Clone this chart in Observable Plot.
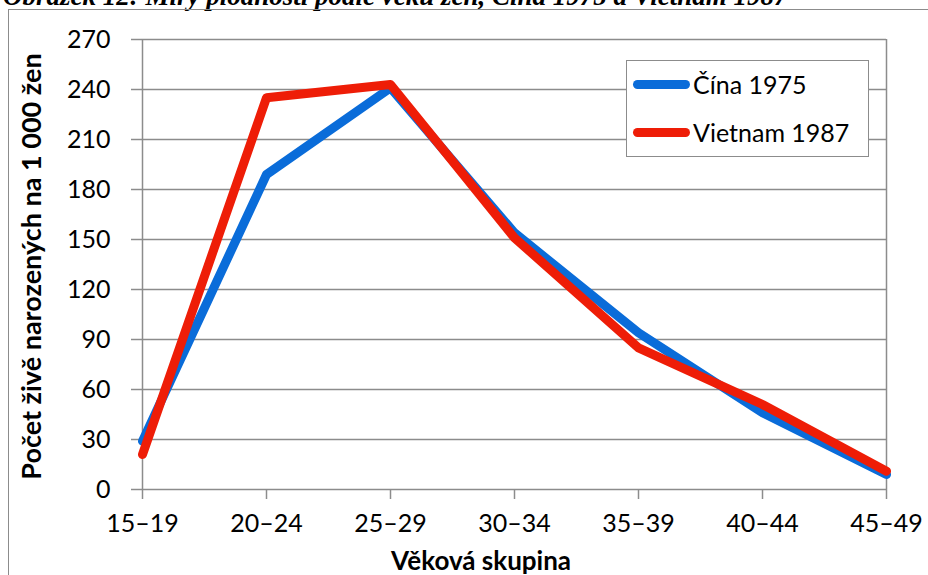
<!DOCTYPE html>
<html>
<head>
<meta charset="utf-8">
<script src="https://cdn.jsdelivr.net/npm/d3@7"></script>
<script src="https://cdn.jsdelivr.net/npm/@observablehq/plot@0.6"></script>
<style>
  html, body { margin: 0; padding: 0; background: #fff; overflow: hidden; }
  #wrap { position: relative; width: 928px; height: 575px; overflow: hidden; font-family: Lato, "DejaVu Sans", sans-serif; }
  #caption { position: absolute; left: 3px; top: -17px; font-family: "Liberation Serif", serif; font-style: italic; font-weight: bold; font-size: 27px; line-height: 27px; white-space: nowrap; color: #000; }
  #frame { position: absolute; left: 8px; top: 9px; width: 2000px; height: 2000px; border-left: 1.5px solid #8c8c8c; border-top: 1.5px solid #8c8c8c; pointer-events: none; }
  #chart { position: absolute; left: 0; top: 0; }
  #legend { position: absolute; left: 626px; top: 60px; width: 241px; height: 95px; border: 1.5px solid #8c8c8c; background: #fff; }
  .item { position: absolute; left: 6px; height: 30px; display: flex; align-items: center; font-size: 25px; color: #000; }
  .sw { width: 57px; height: 9px; border-radius: 5px; margin-right: 3px; }
</style>
</head>
<body>
<div id="wrap">
  <div id="caption">Obrázek 12: Míry plodnosti podle věku žen, Čína 1975 a Vietnam 1987</div>
  <div id="frame"></div>
  <div id="chart"></div>
  <div id="legend"></div>
</div>
<script>
const categories = ["15–19", "20–24", "25–29", "30–34", "35–39", "40–44", "45–49"];
const china1975 = [29, 189, 241, 154, 94, 46, 9];
const vietnam1987 = [21, 235, 243, 151, 85, 51, 11];
const seriesNames = ["Čína 1975", "Vietnam 1987"];
const seriesColors = ["#0a6cd9", "#ee1d07"];
const yTicks = [0, 30, 60, 90, 120, 150, 180, 210, 240, 270];
const yTitle = "Počet živě narozených na 1 000 žen";
const xTitle = "Věková skupina";

const data = [
  ...categories.map((c, i) => ({cat: c, value: china1975[i], series: seriesNames[0]})),
  ...categories.map((c, i) => ({cat: c, value: vietnam1987[i], series: seriesNames[1]}))
];

const grid = "#8c8c8c";

const chart = Plot.plot({
  width: 928,
  height: 575,
  marginLeft: 141,
  marginRight: 42,
  marginTop: 39,
  marginBottom: 86,
  style: {fontFamily: "Lato, sans-serif", fontSize: "25px", color: "#000", background: "transparent", overflow: "visible"},
  x: {type: "point", domain: categories, padding: 0},
  y: {domain: [0, 270]},
  color: {domain: seriesNames, range: seriesColors},
  marks: [
    Plot.ruleY(yTicks, {stroke: grid, strokeWidth: 1.5}),
    Plot.ruleX([categories[0]], {y1: 0, y2: 270, stroke: grid, strokeWidth: 1.5}),
    Plot.ruleX([categories[categories.length - 1]], {y1: 0, y2: 270, stroke: grid, strokeWidth: 1.5}),
    Plot.axisY(yTicks, {tickSize: 10, tickPadding: 21, stroke: grid, strokeWidth: 1.5, strokeOpacity: 1, label: null, fill: "#000"}),
    Plot.axisX(categories, {tickSize: 10, tickPadding: 15, stroke: grid, strokeWidth: 1.5, strokeOpacity: 1, label: null, fill: "#000"}),
    Plot.line(data, {x: "cat", y: "value", stroke: "series", z: "series", strokeWidth: 9, strokeLinejoin: "round", strokeLinecap: "round"}),
    Plot.text([yTitle], {frameAnchor: "left", textAnchor: "middle", dx: -109, dy: 2, rotate: -90, fontWeight: "bold", fontSize: 27, fill: "#000"}),
    Plot.text([xTitle], {frameAnchor: "bottom", dx: -33, dy: 80, fontWeight: "bold", fontSize: 26, fill: "#000"})
  ]
});
document.getElementById("chart").appendChild(chart);

const legend = document.getElementById("legend");
seriesNames.forEach((name, i) => {
  const item = document.createElement("div");
  item.className = "item";
  item.style.top = (8 + i * 48) + "px";
  const sw = document.createElement("div");
  sw.className = "sw";
  sw.style.background = seriesColors[i];
  const t = document.createElement("span");
  t.textContent = name;
  item.appendChild(sw);
  item.appendChild(t);
  legend.appendChild(item);
});
</script>
</body>
</html>
